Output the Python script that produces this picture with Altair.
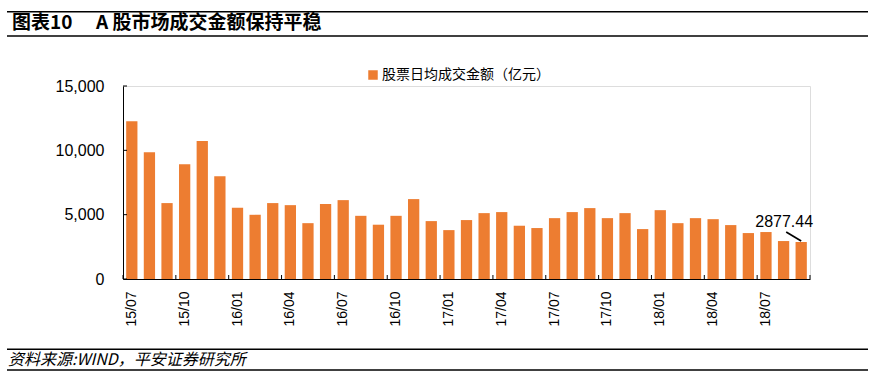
import altair as alt
import pandas as pd

# ---------------- data ----------------
months = [
    "15/07", "15/08", "15/09", "15/10", "15/11", "15/12",
    "16/01", "16/02", "16/03", "16/04", "16/05", "16/06",
    "16/07", "16/08", "16/09", "16/10", "16/11", "16/12",
    "17/01", "17/02", "17/03", "17/04", "17/05", "17/06",
    "17/07", "17/08", "17/09", "17/10", "17/11", "17/12",
    "18/01", "18/02", "18/03", "18/04", "18/05", "18/06",
    "18/07", "18/08", "18/09",
]
values = [
    12260, 9850, 5900, 8920, 10730, 7990,
    5530, 4990, 5900, 5740, 4340, 5820,
    6130, 4910, 4220, 4910, 6210, 4500,
    3800, 4580, 5120, 5200, 4140, 3960,
    4730, 5200, 5510, 4730, 5120, 3880,
    5350, 4340, 4730, 4650, 4190, 3570,
    3650, 2950, 2877.44,
]
series_name = "股票日均成交金额（亿元）"
x_label_months = months[::3]
y_tick_values = [0, 5000, 10000, 15000]
title_num = "图表10"
title_text = "A 股市场成交金额保持平稳"
source_text = "资料来源:WIND，平安证券研究所"

df = pd.DataFrame({"month": months, "value": values, "series": series_name})
df["idx"] = list(range(len(df)))
last_idx = len(df) - 1
yticks_df = pd.DataFrame({"value": y_tick_values})

W, H = 687, 193
ORANGE = "#ED7D31"
CJK = "Noto Sans CJK SC"
LAT = "Liberation Sans"

x_scale = alt.Scale(domain=months, paddingInner=0, paddingOuter=0)
y_scale = alt.Scale(domain=[0, 15000], nice=False)

x_axis = alt.Axis(
    title=None, values=x_label_months, labelAngle=270, ticks=False,
    labelPadding=12, labelFont=LAT, labelFontSize=14, labelColor="#000",
    domainColor="#000", domainWidth=1, grid=False,
)
y_axis = alt.Axis(
    title=None, values=y_tick_values, ticks=False,
    labelExpr="format(datum.value, ',')",
    labelPadding=19, labelFont=LAT, labelFontSize=16, labelColor="#000",
    domainColor="#000", domainWidth=1, grid=False,
)


def xenc(band=None):
    kw = {}
    if band is not None:
        kw["bandPosition"] = band
    return alt.X("month:N", sort=months, scale=x_scale, axis=x_axis, **kw)


def yenc():
    return alt.Y("value:Q", scale=y_scale, axis=y_axis)


base = alt.Chart(df)

bars = base.mark_bar(width=alt.RelativeBandSize(0.64)).encode(
    x=xenc(),
    y=yenc(),
    color=alt.Color(
        "series:N",
        scale=alt.Scale(range=[ORANGE]),
        legend=alt.Legend(
            title=None, orient="none", legendX=243, legendY=-18,
            symbolType="square", symbolSize=90, symbolStrokeWidth=0,
            labelFont=CJK, labelFontSize=14, labelColor="#000", labelOffset=2,
            labelLimit=0,
        ),
    ),
)

# inward x ticks at category boundaries every 3 months, plus end tick
xticks = base.transform_filter("datum.idx % 3 == 0").mark_rule(
    color="#000", strokeWidth=1
).encode(x=xenc(band=0), y=alt.value(H), y2=alt.value(H - 4))

xtick_end = base.transform_filter(f"datum.idx == {last_idx}").mark_rule(
    color="#000", strokeWidth=1
).encode(x=xenc(band=1), y=alt.value(H), y2=alt.value(H - 4))

# inward y ticks
yticks = alt.Chart(yticks_df).mark_rule(color="#000", strokeWidth=1).encode(
    y=yenc(), x=alt.value(0), x2=alt.value(4)
)

# annotation of last value
last = base.transform_filter(f"datum.idx == {last_idx}")
annot_text = last.mark_text(
    font=LAT, fontSize=16, color="#000", align="center",
    baseline="alphabetic", dx=-17, dy=-15,
).encode(x=xenc(), y=yenc(), text=alt.Text("value:Q", format=".2f"))

annot_line = last.mark_rule(
    color="#000", strokeWidth=1.7, xOffset=-15, yOffset=-10, x2Offset=0, y2Offset=-1
).encode(x=xenc(), x2=alt.X2("month"), y=yenc(), y2=alt.Y2("value"))

# header / footer
one = pd.DataFrame({"num": [title_num], "title": [title_text], "src": [source_text]})
hdr = alt.Chart(one)

title1 = hdr.mark_text(
    font=CJK, fontSize=19, fontWeight="bold", color="#000", align="left", baseline="middle"
).encode(x=alt.value(-111), y=alt.value(-63), text="num:N")
title2 = hdr.mark_text(
    font=CJK, fontSize=19, fontWeight="bold", color="#000", align="left", baseline="middle"
).encode(x=alt.value(-27), y=alt.value(-63), text="title:N")
source = hdr.mark_text(
    font=CJK, fontSize=16, fontStyle="italic", color="#000", align="left", baseline="middle"
).encode(x=alt.value(-115), y=alt.value(274), text="src:N")

line_kw = dict(color="#000", strokeWidth=1.6)
lines = [
    hdr.mark_rule(**line_kw).encode(x=alt.value(-116), x2=alt.value(745), y=alt.value(yy))
    for yy in (-74.3, -50, 263.3, 284)
]

chart = alt.layer(
    bars, yticks, xticks, xtick_end, annot_line, annot_text,
    title1, title2, source, *lines,
).properties(
    width=W,
    height=H,
    padding={"left": 123, "top": 86, "right": 63, "bottom": 99},
    autosize=alt.AutoSizeParams(type="none"),
).configure_view(stroke=None).configure(background="white")

chart.save("out.html", embed_options={"renderer": "svg", "actions": False})
